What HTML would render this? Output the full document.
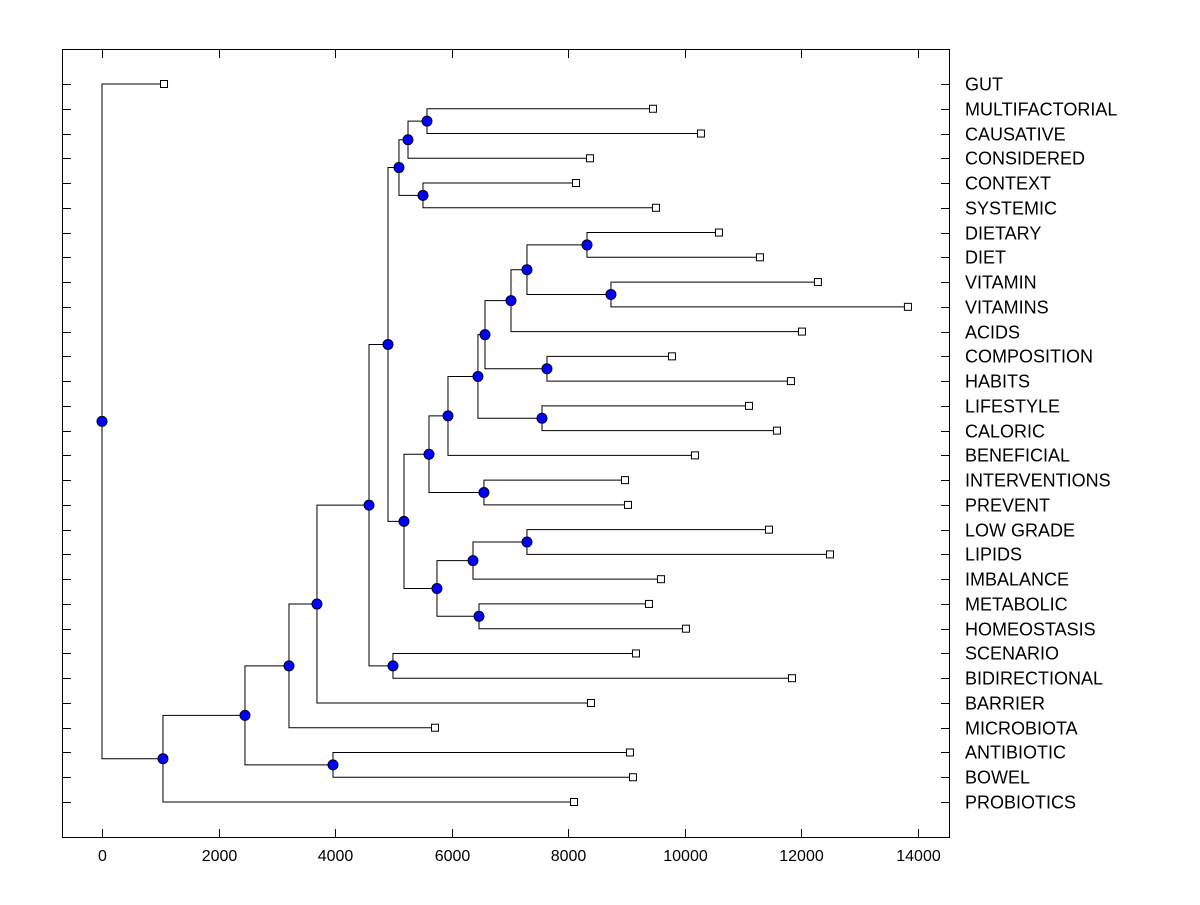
<!DOCTYPE html>
<html><head><meta charset="utf-8"><style>
body{margin:0;background:#fff}
svg text{font-family:"Liberation Sans",Arial,sans-serif;font-size:16px;fill:#000}
svg text.leaf{font-size:18px}
</style></head><body>
<svg id="chart" width="1200" height="900" xmlns="http://www.w3.org/2000/svg">
<rect x="62.5" y="49.5" width="887" height="788" fill="none" stroke="#000" stroke-width="1"/>
<g id="g"></g>
</svg>
<script>
const leafNames=["GUT","MULTIFACTORIAL","CAUSATIVE","CONSIDERED","CONTEXT","SYSTEMIC","DIETARY","DIET","VITAMIN","VITAMINS","ACIDS","COMPOSITION","HABITS","LIFESTYLE","CALORIC","BENEFICIAL","INTERVENTIONS","PREVENT","LOW GRADE","LIPIDS","IMBALANCE","METABOLIC","HOMEOSTASIS","SCENARIO","BIDIRECTIONAL","BARRIER","MICROBIOTA","ANTIBIOTIC","BOWEL","PROBIOTICS"];
const leafValues=[1064,9453,10276,8372,8132,9504,10585,11288,12283,13827,12009,9779,11820,11100,11580,10173,8973,9024,11443,12490,9590,9384,10019,9161,11838,8389,5713,9058,9110,8098];
// merges: [childA, childB, height]; "L#" leaf, "N#" node
const merges=[
["L1","L2",5576],["N0","L3",5250],["L4","L5",5507],["N1","N2",5095],
["L6","L7",8321],["L8","L9",8732],["N4","N5",7291],["N6","L10",7017],
["L11","L12",7634],["N7","N8",6571],["L13","L14",7549],["N9","N10",6450],
["N11","L15",5936],["L16","L17",6553],["N12","N13",5610],["L18","L19",7291],
["N15","L20",6365],["L21","L22",6468],["N16","N17",5747],["N14","N18",5181],
["N3","N19",4907],["L23","L24",4992],["N20","N21",4581],["N22","L25",3688],
["N23","L26",3208],["L27","L28",3963],["N24","N25",2453],["N26","L29",1046],
["L0","N27",0]];
const xTicks=[0,2000,4000,6000,8000,10000,12000,14000];

const X0=102,SC=816/14000,Y0=84,DY=(802-84)/29;
const xs=v=>X0+v*SC, ys=i=>Y0+i*DY;
const NS="http://www.w3.org/2000/svg",g=document.getElementById('g');
function mk(t,a){const e=document.createElementNS(NS,t);for(const k in a)e.setAttribute(k,a[k]);g.appendChild(e);return e;}
xTicks.forEach(v=>{const x=Math.round(xs(v))+0.5;
 let t=mk('line',{x1:x,x2:x,y1:837,y2:829,stroke:'#000'});
 
 t=mk('line',{x1:x,x2:x,y1:50,y2:58,stroke:'#000'});
 
 const l=mk('text',{x:x,y:861,'text-anchor':'middle'});l.textContent=v;
 });
leafNames.forEach((n,i)=>{const y=Math.round(ys(i))+0.5;
 let t=mk('line',{x1:63,x2:71,y1:y,y2:y,stroke:'#000'});
 
 t=mk('line',{x1:941,x2:949,y1:y,y2:y,stroke:'#000'});
 
 const l=mk('text',{x:965,y:y+6,'class':'leaf'});l.textContent=n;
 });
const pos={};
leafValues.forEach((v,i)=>pos['L'+i]={x:xs(v),y:ys(i)});
const dots=[];
merges.forEach((m,k)=>{const a=pos[m[0]],b=pos[m[1]],x=xs(m[2]);
 const p={x:x,y:(a.y+b.y)/2};pos['N'+k]=p;
 const pl=mk('polyline',{points:`${a.x},${a.y} ${x},${a.y} ${x},${b.y} ${b.x},${b.y}`,fill:'none',stroke:'#000','stroke-width':1});
 
 dots.push(p);});
leafValues.forEach((v,i)=>{const p=pos['L'+i];
 const r=mk('rect',{x:p.x-3.5,y:p.y-3.5,width:7,height:7,fill:'#fff',stroke:'#000'});
 });
dots.forEach(p=>{const c=mk('circle',{cx:p.x,cy:p.y,r:5,fill:'#0000ff',stroke:'#000020','stroke-width':1});
 });
</script>
</body></html>
